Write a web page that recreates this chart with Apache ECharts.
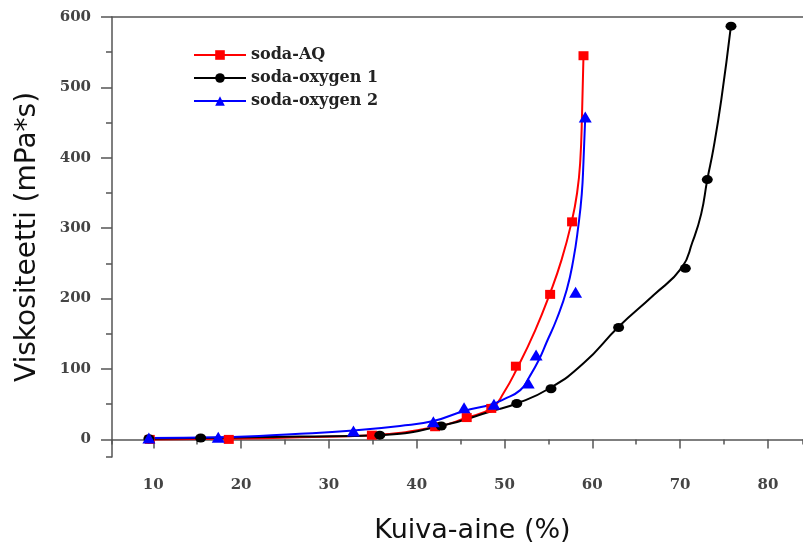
<!DOCTYPE html>
<html>
<head>
<meta charset="utf-8">
<script src="https://cdn.jsdelivr.net/npm/echarts@6/dist/echarts.min.js"></script>
<style>
html,body{margin:0;padding:0;background:#fff;}
#c{width:803px;height:549px;}
</style>
</head>
<body>
<div id="c"></div>
<script>
const seriesNames = ['soda-AQ', 'soda-oxygen 1', 'soda-oxygen 2'];
// measured points (markers)
const sodaAQ = [[9.6,0],[18.6,0],[34.9,6],[42.1,18],[45.7,31],[48.5,44],[51.3,104],[55.2,206],[57.7,309],[59.0,545]];
const sodaOxygen1 = [[9.5,1],[15.4,2],[35.8,6],[42.8,19],[51.4,51],[55.3,72],[63.0,159],[70.6,243],[73.1,369],[75.8,587]];
const sodaOxygen2 = [[9.5,2],[17.4,3],[32.8,12],[41.9,25],[45.4,45],[48.8,50],[52.7,80],[53.6,120],[58.1,209],[59.2,458]];
// fitted curves
const sodaAQCurve = [[9.6,0],[18.6,1],[26.7,3],[34.9,6],[42.3,18],[45.5,30],[48.6,45],[49.9,66],[51.4,100],[53.5,155],[55.2,208],[56.5,255],[57.65,309],[58.27,350],[58.63,395],[58.84,465],[59.0,545]];
const sodaOxygen1Curve = [[9.5,1],[15.4,2],[26.7,4],[35.7,6],[42.7,19],[48.5,40],[51.4,51],[55.2,73],[59.0,108],[63.0,160],[67.0,205],[70.2,244],[71.4,280],[72.4,320],[73.1,369],[73.8,413],[74.7,483],[75.8,588]];
const sodaOxygen2Curve = [[9.5,2],[17.4,3],[26.7,8],[32.8,12.6],[38.1,19],[41.9,26],[45.3,40],[48.6,50],[49.9,57],[51.8,70],[52.8,88],[54.0,115],[54.8,138],[55.95,171],[57.1,213],[57.84,255],[58.4,302],[58.8,348],[59.0,395],[59.2,458]];
const xTitle = 'Kuiva-aine (%)';
const yTitle = 'Viskositeetti (mPa*s)';

const tickFont = {fontFamily:'DejaVu Serif', fontWeight:'bold', fontSize:15, color:'#444'};
const X_MIN = 5.3, X_MAX = 84, Y_MIN = -25, Y_MAX = 600;

const chart = echarts.init(document.getElementById('c'));
const curve = (name, data, color, symbol) => ({
  name, type:'line', data, smooth:0.5, symbol, showSymbol:false,
  lineStyle:{color, width:2}, itemStyle:{color}, z:2
});
const pts = (name, data, color, symbol, size) => ({
  name, type:'scatter', data, symbol, symbolSize:size,
  itemStyle:{color, opacity:1}, z:3
});
chart.setOption({
  animation:false,
  grid:{left:112, right:0, top:17, bottom:86},
  legend:{
    orient:'vertical', left:188, top:42, itemWidth:52, itemHeight:12, itemGap:7,
    textStyle:{fontFamily:'DejaVu Serif', fontWeight:'bold', fontSize:16, color:'#222'},
    data:seriesNames
  },
  xAxis:[
    {type:'value', position:'bottom', min:X_MIN, max:X_MAX, splitNumber:8,
     name:xTitle, nameLocation:'middle', nameGap:60,
     nameTextStyle:{fontFamily:'DejaVu Sans', fontSize:27, color:'#111', padding:[0,0,0,30]},
     axisLine:{show:true, lineStyle:{color:'#555', width:1.5}},
     axisTick:{show:true, length:9, lineStyle:{color:'#555', width:1.5}},
     axisLabel:Object.assign({margin:21, showMinLabel:false, showMaxLabel:false}, tickFont),
     splitLine:{show:false}},
    {type:'value', position:'bottom', min:X_MIN, max:X_MAX, splitNumber:16,
     axisLine:{show:false}, axisLabel:{show:false}, splitLine:{show:false},
     axisTick:{show:true, length:5, lineStyle:{color:'#555', width:1.5}}},
    {type:'value', position:'top', min:X_MIN, max:X_MAX,
     axisLine:{show:true, lineStyle:{color:'#555', width:1.5}},
     axisTick:{show:false}, axisLabel:{show:false}, splitLine:{show:false}}
  ],
  yAxis:[
    {type:'value', position:'left', min:Y_MIN, max:Y_MAX, splitNumber:6,
     name:yTitle, nameLocation:'middle', nameGap:70,
     nameTextStyle:{fontFamily:'DejaVu Sans', fontSize:28, color:'#111'},
     axisLine:{show:true, lineStyle:{color:'#555', width:1.5}},
     axisTick:{show:true, length:11, lineStyle:{color:'#555', width:1.5}},
     axisLabel:Object.assign({margin:21, showMinLabel:false}, tickFont),
     splitLine:{show:false}},
    {type:'value', position:'left', min:Y_MIN, max:Y_MAX, splitNumber:12,
     axisLine:{show:false}, axisLabel:{show:false}, splitLine:{show:false},
     axisTick:{show:true, length:6, lineStyle:{color:'#555', width:1.5}}}
  ],
  series:[
    curve(seriesNames[0], sodaAQCurve, '#ff0000', 'rect'),
    curve(seriesNames[1], sodaOxygen1Curve, '#000000', 'circle'),
    curve(seriesNames[2], sodaOxygen2Curve, '#0000ff', 'triangle'),
    pts(seriesNames[0], sodaAQ, '#ff0000', 'rect', [10,9]),
    pts(seriesNames[1], sodaOxygen1, '#000000', 'circle', [11,9]),
    pts(seriesNames[2], sodaOxygen2, '#0000ff', 'triangle', [13,11])
  ]
});
</script>
</body>
</html>
